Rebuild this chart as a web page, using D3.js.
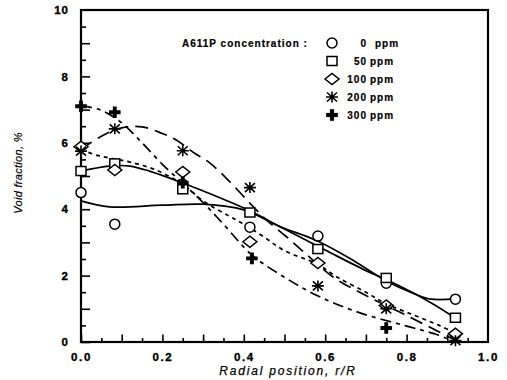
<!DOCTYPE html>
<html><head><meta charset="utf-8">
<script src="https://cdn.jsdelivr.net/npm/d3@7"></script>
<style>body{margin:0;background:#fff}</style>
</head><body><svg id="c" width="507" height="380"></svg>
<script>
// ---- data ----
const seriesLabels = ["0", "50", "100", "200", "300"];
const legendTitle = "A611P concentration :";
const xTickLabels = ["0.0", "0.2", "0.4", "0.6", "0.8", "1.0"];
const yTickLabels = ["0", "2", "4", "6", "8", "10"];
const xTitle = "Radial position, r/R";
const yTitle = "Void fraction, %";

// measured points [r/R, void fraction %]
const pts0   = [[0,4.5],[0.083,3.55],[0.25,4.75],[0.415,3.46],[0.582,3.19],[0.75,1.77],[0.92,1.29]];
const pts50  = [[0,5.15],[0.083,5.38],[0.25,4.6],[0.415,3.9],[0.582,2.8],[0.75,1.93],[0.92,0.73]];
const pts100 = [[0,5.88],[0.083,5.18],[0.25,5.12],[0.415,3.02],[0.582,2.38],[0.75,1.1],[0.92,0.25]];
const pts200 = [[0,5.75],[0.083,6.42],[0.25,5.76],[0.415,4.65],[0.582,1.69],[0.75,1.0],[0.92,0.04]];
const pts300 = [[0,7.1],[0.083,6.92],[0.25,4.8],[0.42,2.52],[0.75,0.42]];

// fitted curves
const fit0   = [[0,4.25],[0.07,4.07],[0.2,4.12],[0.3,4.15],[0.4,3.98],[0.49,3.47],[0.58,3.05],[0.67,2.45],[0.75,1.84],[0.82,1.45],[0.86,1.29],[0.92,1.3]];
const fit50  = [[0,5.15],[0.07,5.3],[0.12,5.3],[0.17,5.14],[0.25,4.79],[0.35,4.3],[0.41,3.98],[0.5,3.4],[0.6,2.77],[0.7,2.15],[0.75,1.88],[0.85,1.25],[0.91,0.8]];
const fit100 = [[0,5.8],[0.04,5.62],[0.08,5.52],[0.12,5.42],[0.18,5.2],[0.25,4.75],[0.3,4.25],[0.36,3.82],[0.4,3.55],[0.45,3.16],[0.5,2.75],[0.58,2.35],[0.63,1.95],[0.7,1.5],[0.75,1.15],[0.82,0.8],[0.88,0.5],[0.92,0.27]];
const fit200 = [[0,5.8],[0.05,6.2],[0.1,6.45],[0.15,6.48],[0.2,6.28],[0.235,6.08],[0.275,5.72],[0.317,5.39],[0.366,4.82],[0.415,4.18],[0.456,3.67],[0.5,3.22],[0.55,2.68],[0.62,1.95],[0.7,1.4],[0.8,0.8],[0.92,0.05]];
const fit300 = [[0,7.12],[0.05,6.98],[0.1,6.6],[0.15,6.0],[0.2,5.35],[0.25,4.78],[0.3,4.2],[0.35,3.55],[0.42,2.62],[0.5,1.95],[0.58,1.4],[0.68,0.9],[0.8,0.48],[0.87,0.24],[0.92,0.0]];

const points = [pts0, pts50, pts100, pts200, pts300];
const fits = [fit0, fit50, fit100, fit200, fit300];
const symbols = ["circle", "square", "diamond", "star", "plus"];
const dashes = [null, null, "4,4", "13,7", "11,5,4,5"];

// ---- layout ----
const svg = d3.select("#c");
const L = 81, R = 488, T = 10, B = 342;
const x = d3.scaleLinear().domain([0, 1]).range([L, R]);
const y = d3.scaleLinear().domain([0, 10]).range([B, T]);
const tickFont = "'Liberation Sans', Arial, sans-serif";

// minor/major ticks
const xMinor = d3.range(0, 20).map(i => i * 0.05);
const gxm = svg.append("g").attr("transform", `translate(0,${B})`)
  .call(d3.axisBottom(x).tickValues(xMinor).tickFormat("").tickSizeOuter(0).tickSize(-4));
gxm.selectAll(".tick line").attr("y2", (d, i) => i % 2 === 0 ? -7.5 : -4).attr("stroke-width", 1.6);
gxm.select(".domain").remove();

const gx = svg.append("g").attr("transform", `translate(0,${B})`)
  .call(d3.axisBottom(x).tickValues(xTickLabels.map(Number)).tickFormat((d, i) => xTickLabels[i]).tickSize(0).tickPadding(11));
gx.select(".domain").remove();
gx.selectAll("text").attr("font-family", tickFont).attr("font-weight", "bold").attr("font-size", 11.5)
  .attr("letter-spacing", "1.6px").attr("fill", "#000").attr("stroke", "#000").attr("stroke-width", 0.35);

const yMinor = d3.range(0, 20).map(i => i * 0.5);
const gym = svg.append("g").attr("transform", `translate(${L},0)`)
  .call(d3.axisLeft(y).tickValues(yMinor).tickFormat("").tickSize(-5));
gym.selectAll(".tick line").attr("x2", (d, i) => i % 2 === 0 ? 9 : 5).attr("stroke-width", 1.6);
gym.select(".domain").remove();

const gy = svg.append("g").attr("transform", `translate(${L},0)`)
  .call(d3.axisLeft(y).tickValues(yTickLabels.map(Number)).tickFormat((d, i) => yTickLabels[i]).tickSize(0).tickPadding(12));
gy.select(".domain").remove();
gy.selectAll("text").attr("font-family", tickFont).attr("font-weight", "bold").attr("font-size", 11.5)
  .attr("letter-spacing", "1px").attr("fill", "#000").attr("stroke", "#000").attr("stroke-width", 0.35);

// frame
svg.append("rect").attr("x", L).attr("y", T).attr("width", R - L).attr("height", B - T)
  .attr("fill", "none").attr("stroke", "#000").attr("stroke-width", 2.2);

// titles
svg.append("text").attr("x", 288).attr("y", 375).attr("text-anchor", "middle")
  .attr("font-family", tickFont).attr("font-style", "italic").attr("font-size", 12)
  .attr("letter-spacing", "1.8px").attr("stroke", "#000").attr("stroke-width", 0.25).text(xTitle);
svg.append("text").attr("transform", "translate(22,173) rotate(-90)").attr("text-anchor", "middle")
  .attr("font-family", tickFont).attr("font-style", "italic").attr("font-size", 11)
  .attr("letter-spacing", "0.3px").attr("stroke", "#000").attr("stroke-width", 0.2).text(yTitle);

// curves
const line = d3.line().x(d => x(d[0])).y(d => y(d[1])).curve(d3.curveCatmullRom.alpha(0.5));
fits.forEach((f, i) => {
  svg.append("path").datum(f).attr("d", line).attr("fill", "none").attr("stroke", "#000")
    .attr("stroke-width", 1.7).attr("stroke-dasharray", dashes[i]);
});

// marker drawing
function marker(g, type, cx, cy) {
  const s = g.append("g").attr("transform", `translate(${cx},${cy})`);
  if (type === "circle") s.append("circle").attr("r", 5).attr("fill", "#fff").attr("stroke", "#000").attr("stroke-width", 1.5);
  else if (type === "square") s.append("rect").attr("x", -5).attr("y", -4.5).attr("width", 10).attr("height", 9).attr("fill", "#fff").attr("stroke", "#000").attr("stroke-width", 1.5);
  else if (type === "diamond") s.append("path").attr("d", "M-7,0L0,-5.5L7,0L0,5.5Z").attr("fill", "#fff").attr("stroke", "#000").attr("stroke-width", 1.5);
  else if (type === "star") s.append("path").attr("d", "M-6,0H6M0,-5.5V5.5M-5,-4.5L5,4.5M-5,4.5L5,-4.5").attr("stroke", "#000").attr("stroke-width", 1.6);
  else if (type === "plus") s.append("path").attr("d", d3.symbol(d3.symbolCross, 75)()).attr("fill", "#000");
}
points.forEach((p, i) => p.forEach(d => marker(svg, symbols[i], x(d[0]), y(d[1]))));

// legend
const lg = svg.append("g").attr("font-family", tickFont).attr("font-weight", "bold").attr("font-size", 10)
  .attr("letter-spacing", "1px").attr("stroke", "#000").attr("stroke-width", 0.2);
lg.append("text").attr("x", 182).attr("y", 47).text(legendTitle);
seriesLabels.forEach((s, i) => {
  const yy = 43 + i * 18;
  marker(lg, symbols[i], 332, yy);
  lg.append("text").attr("x", 367).attr("y", yy + 4).attr("text-anchor", "end").text(s);
  lg.append("text").attr("x", i === 0 ? 375 : 370).attr("y", yy + 4).text("ppm");
});
</script></body></html>
